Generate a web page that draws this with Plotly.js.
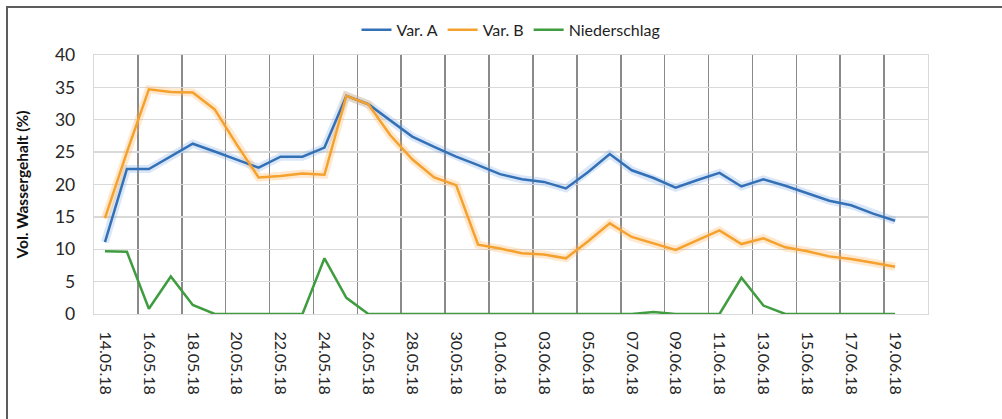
<!DOCTYPE html>
<html>
<head>
<meta charset="utf-8">
<script src="https://cdn.plot.ly/plotly-3.0.1.min.js"></script>
<style>
  html, body { margin: 0; padding: 0; background: #fff; }
  #wrap { position: relative; width: 1002px; height: 419px; overflow: hidden; }
  #chart { position: absolute; left: 0; top: 0; width: 1002px; height: 419px; }
  #frame { position: absolute; left: 6px; top: 6px; width: 1100px; height: 500px;
           border-left: 2px solid #5c5c5c; border-top: 2px solid #5c5c5c; pointer-events: none; }
</style>
</head>
<body>
<div id="wrap">
  <div id="chart"></div>
  <div id="frame"></div>
</div>
<script>
// Categories (daily), the last one has no data
const dates = [
  "14.05.18","15.05.18","16.05.18","17.05.18","18.05.18","19.05.18","20.05.18","21.05.18",
  "22.05.18","23.05.18","24.05.18","25.05.18","26.05.18","27.05.18","28.05.18","29.05.18",
  "30.05.18","31.05.18","01.06.18","02.06.18","03.06.18","04.06.18","05.06.18","06.06.18",
  "07.06.18","08.06.18","09.06.18","10.06.18","11.06.18","12.06.18","13.06.18","14.06.18",
  "15.06.18","16.06.18","17.06.18","18.06.18","19.06.18","20.06.18"
];

const varA = [11.1, 22.4, 22.4, 24.4, 26.3, 25.1, 23.9, 22.6, 24.3, 24.3,
              25.7, 33.7, 32.4, 29.9, 27.4, 25.8, 24.3, 23.0, 21.6, 20.8,
              20.4, 19.4, 21.9, 24.7, 22.2, 21.0, 19.5, 20.7, 21.8, 19.7,
              20.8, 19.8, 18.6, 17.5, 16.8, 15.5, 14.4];

const varB = [14.8, 25.0, 34.7, 34.3, 34.2, 31.6, 26.2, 21.1, 21.3, 21.7,
              21.5, 33.7, 32.4, 27.6, 23.9, 21.1, 19.9, 10.7, 10.1, 9.4,
              9.2, 8.6, 11.2, 14.0, 11.9, 10.9, 9.9, 11.4, 12.9, 10.8,
              11.7, 10.3, 9.7, 8.9, 8.5, 7.9, 7.3];

const niederschlag = [9.7, 9.6, 0.8, 5.8, 1.4, 0, 0, 0, 0, 0,
                      8.6, 2.5, 0, 0, 0, 0, 0, 0, 0, 0,
                      0, 0, 0, 0, 0, 0.3, 0, 0, 0, 5.6,
                      1.3, 0, 0, 0, 0, 0, 0];

const seriesNames = ["Var. A", "Var. B", "Niederschlag"];
const yTickVals = [0, 5, 10, 15, 20, 25, 30, 35, 40];

const idx = (arr) => arr.map((_, i) => i);
const labelIdx = dates.map((_, i) => i).filter(i => i % 2 === 0 && i < varA.length);
const boundaryIdx = labelIdx.slice(1).map(i => i - 0.5);

const FONT = "Lato, Carlito, Calibri, 'Open Sans', sans-serif";
const cBlue = "#3470b6", cOrange = "#f4a12e", cGreen = "#3f9c3f";

const traces = [
  { x: idx(varA), y: varA, mode: "lines", line: { color: "rgba(120,170,235,0.28)", width: 8 },
    showlegend: false, hoverinfo: "skip" },
  { x: idx(varB), y: varB, mode: "lines", line: { color: "rgba(255,180,90,0.30)", width: 8 },
    showlegend: false, hoverinfo: "skip" },
  { x: idx(varA), y: varA, name: seriesNames[0], mode: "lines", line: { color: cBlue, width: 2.5 } },
  { x: idx(varB), y: varB, name: seriesNames[1], mode: "lines", line: { color: cOrange, width: 2.5 } },
  { x: idx(niederschlag), y: niederschlag, name: seriesNames[2], mode: "lines", line: { color: cGreen, width: 2.5 } }
];

const layout = {
  width: 1002, height: 419,
  margin: { l: 94, r: 74, t: 55, b: 105 },
  paper_bgcolor: "#ffffff", plot_bgcolor: "#ffffff",
  font: { family: FONT, color: "#262626", size: 17 },
  showlegend: true,
  legend: {
    orientation: "h", x: 0.5, xanchor: "center", y: 1.097, yanchor: "middle",
    font: { family: FONT, size: 16, color: "#1f1f1f" },
    itemwidth: 30, traceorder: "normal"
  },
  xaxis: {
    range: [-0.5, dates.length - 0.5],
    tickmode: "array",
    tickvals: labelIdx,
    ticktext: labelIdx.map(i => dates[i]),
    tickangle: 90,
    ticks: "",
    ticklabelstandoff: 13,
    tickfont: { family: FONT, size: 16, color: "#262626" },
    showgrid: false,
    zeroline: false,
    showline: true, mirror: true, linecolor: "#d9d9d9", linewidth: 1.3,
    minor: { tickmode: "array", tickvals: boundaryIdx, showgrid: true,
             gridcolor: "#8a8a8a", gridwidth: 1.6, ticks: "" },
    fixedrange: true
  },
  yaxis: {
    range: [0, 40],
    tickmode: "array",
    tickvals: yTickVals,
    ticks: "",
    ticklabelstandoff: 14,
    tickfont: { family: FONT, size: 17.5, color: "#262626" },
    showgrid: true, gridcolor: "#d9d9d9", gridwidth: 1.3,
    zeroline: false,
    showline: true, mirror: true, linecolor: "#d9d9d9", linewidth: 1.3,
    title: { text: "Vol. Wassergehalt (%)", font: { family: FONT, size: 15.5, color: "#111111", weight: "bold" }, standoff: 22 },
    fixedrange: true
  }
};

Plotly.newPlot("chart", traces, layout, { staticPlot: true, displayModeBar: false });
</script>
</body>
</html>
